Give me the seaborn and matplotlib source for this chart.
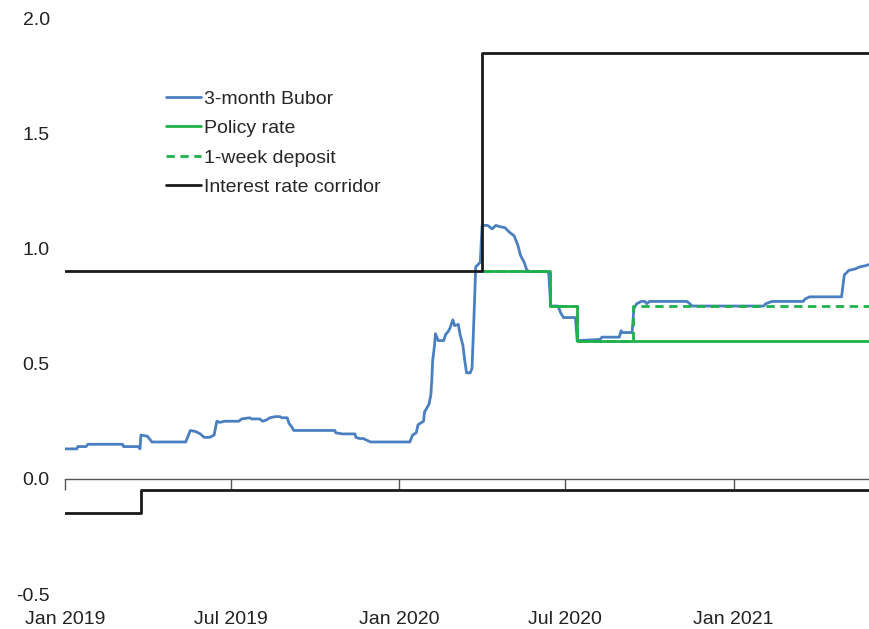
import pandas as pd
import seaborn as sns
import matplotlib
matplotlib.use('Agg')
import matplotlib.pyplot as plt
import matplotlib.dates as mdates

# 3-month Bubor
bubor_dates = ['2019-01-01', '2019-01-14', '2019-01-15', '2019-01-24', '2019-01-26', '2019-03-05',
               '2019-03-06', '2019-03-22', '2019-03-24', '2019-03-25', '2019-04-01', '2019-04-06',
               '2019-05-13', '2019-05-18', '2019-05-24', '2019-05-29', '2019-06-02', '2019-06-08',
               '2019-06-13', '2019-06-16', '2019-06-19', '2019-06-25', '2019-07-10', '2019-07-13',
               '2019-07-22', '2019-07-24', '2019-08-02', '2019-08-05', '2019-08-09', '2019-08-13',
               '2019-08-19', '2019-08-24', '2019-08-26', '2019-09-01', '2019-09-03', '2019-09-06',
               '2019-09-08', '2019-10-23', '2019-10-24', '2019-10-31', '2019-11-14', '2019-11-15',
               '2019-11-19', '2019-11-23', '2019-12-01', '2020-01-13', '2020-01-16', '2020-01-20',
               '2020-01-22', '2020-01-26', '2020-01-28', '2020-01-29', '2020-02-01', '2020-02-03',
               '2020-02-05', '2020-02-06', '2020-02-07', '2020-02-09', '2020-02-10', '2020-02-13',
               '2020-02-19', '2020-02-21', '2020-02-24', '2020-02-26', '2020-02-29', '2020-03-02',
               '2020-03-06', '2020-03-08', '2020-03-11', '2020-03-13', '2020-03-15', '2020-03-19',
               '2020-03-21', '2020-03-23', '2020-03-24', '2020-03-25', '2020-03-30', '2020-04-01',
               '2020-04-07', '2020-04-12', '2020-04-16', '2020-04-20', '2020-04-26', '2020-05-01',
               '2020-05-06', '2020-05-10', '2020-05-13', '2020-05-17', '2020-05-20', '2020-05-23',
               '2020-06-12', '2020-06-13', '2020-06-15', '2020-06-23', '2020-06-26', '2020-06-29',
               '2020-07-12', '2020-07-14', '2020-08-08', '2020-08-10', '2020-08-29', '2020-08-31',
               '2020-09-01', '2020-09-12', '2020-09-14', '2020-09-17', '2020-09-22', '2020-09-26',
               '2020-09-28', '2020-10-01', '2020-11-11', '2020-11-14', '2020-11-17', '2021-02-03',
               '2021-02-05', '2021-02-12', '2021-03-18', '2021-03-20', '2021-03-25', '2021-04-29',
               '2021-05-02', '2021-05-07', '2021-05-13', '2021-05-19', '2021-05-25', '2021-05-29']
bubor_vals = [0.13, 0.13, 0.14, 0.14, 0.15, 0.15,
              0.14, 0.14, 0.13, 0.19, 0.185, 0.16,
              0.16, 0.21, 0.205, 0.195, 0.18, 0.18,
              0.19, 0.25, 0.245, 0.25, 0.25, 0.26,
              0.265, 0.26, 0.26, 0.25, 0.255, 0.265,
              0.27, 0.27, 0.265, 0.265, 0.24, 0.225,
              0.21, 0.21, 0.20, 0.195, 0.195, 0.18,
              0.175, 0.175, 0.16, 0.16, 0.19, 0.20,
              0.235, 0.245, 0.25, 0.29, 0.31, 0.325,
              0.365, 0.43, 0.515, 0.58, 0.63, 0.60,
              0.60, 0.625, 0.64, 0.655, 0.69, 0.665,
              0.67, 0.625, 0.58, 0.515, 0.46, 0.46,
              0.48, 0.69, 0.80, 0.92, 0.94, 1.10,
              1.10, 1.085, 1.10, 1.095, 1.09, 1.07,
              1.055, 1.015, 0.97, 0.94, 0.905, 0.90,
              0.90, 0.885, 0.75, 0.75, 0.72, 0.70,
              0.70, 0.60, 0.605, 0.615, 0.615, 0.643,
              0.635, 0.635, 0.74, 0.76, 0.77, 0.77,
              0.76, 0.77, 0.77, 0.76, 0.75, 0.75,
              0.76, 0.77, 0.77, 0.78, 0.79, 0.79,
              0.885, 0.905, 0.91, 0.92, 0.925, 0.93]

# policy rate and 1-week deposit (step changes)
policy_dates = ['2020-04-01', '2020-06-14', '2020-07-14', '2021-05-29']
policy_vals = [0.9, 0.75, 0.6, 0.6]
deposit_dates = ['2020-04-01', '2020-06-14', '2020-07-14', '2020-09-13', '2021-05-29']
deposit_vals = [0.9, 0.75, 0.6, 0.75, 0.75]

# interest rate corridor, upper and lower bound
upper_dates = ['2019-01-01', '2020-04-01', '2021-05-29']
upper_vals = [0.9, 1.85, 1.85]
lower_dates = ['2019-01-01', '2019-03-25', '2021-05-29']
lower_vals = [-0.15, -0.05, -0.05]

y_ticks = [-0.5, 0.0, 0.5, 1.0, 1.5, 2.0]


def mk(d, v):
    return pd.DataFrame({'date': pd.to_datetime(d), 'val': v})


sns.set_style('white')
plt.rcParams['font.family'] = ['Liberation Sans', 'DejaVu Sans']
plt.rcParams['axes.unicode_minus'] = False

fig = plt.figure(figsize=(8.69, 6.29), dpi=100)
ax = fig.add_axes([0.0748, 0.0556, 0.9252, 0.9157])

c_blue = '#4a7fc1'
c_green = '#1fb14c'
c_black = '#1a1a1a'

sns.lineplot(data=mk(bubor_dates, bubor_vals), x='date', y='val', ax=ax, color=c_blue,
             lw=2.0, estimator=None, sort=False, label='3-month Bubor')
sns.lineplot(data=mk(policy_dates, policy_vals), x='date', y='val', ax=ax, color=c_green,
             lw=2.0, estimator=None, drawstyle='steps-post', label='Policy rate')
sns.lineplot(data=mk(deposit_dates, deposit_vals), x='date', y='val', ax=ax, color=c_green,
             lw=2.0, estimator=None, drawstyle='steps-post', linestyle=(0, (3, 2)),
             label='1-week deposit')
sns.lineplot(data=mk(upper_dates, upper_vals), x='date', y='val', ax=ax, color=c_black,
             lw=2.0, estimator=None, drawstyle='steps-post', label='Interest rate corridor')
sns.lineplot(data=mk(lower_dates, lower_vals), x='date', y='val', ax=ax, color=c_black,
             lw=2.0, estimator=None, drawstyle='steps-post')

ax.set_xlim(pd.Timestamp('2019-01-01'), pd.Timestamp('2021-05-29'))
ax.set_ylim(-0.5, 2.0)
ax.set_yticks(y_ticks)
ax.yaxis.set_major_formatter(plt.FormatStrFormatter('%.1f'))
ax.set_xlabel('')
ax.set_ylabel('')

# x axis line sits at zero, labels at the bottom
for s in ['top', 'right', 'left']:
    ax.spines[s].set_visible(False)
ax.spines['bottom'].set_position(('data', 0))
ax.spines['bottom'].set_color('#555555')
ax.spines['bottom'].set_linewidth(1.0)
loc = mdates.MonthLocator(bymonth=[1, 7])
ax.xaxis.set_major_locator(loc)
ax.xaxis.set_major_formatter(mdates.DateFormatter('%b %Y'))
ax.tick_params(axis='x', direction='out', length=8, width=1.0, color='#555555',
               labelbottom=False, bottom=True)
ax.tick_params(axis='y', length=0, pad=11, labelsize=14, labelcolor='#222222')

sec = ax.secondary_xaxis('bottom')
sec.xaxis.set_major_locator(mdates.MonthLocator(bymonth=[1, 7]))
sec.xaxis.set_major_formatter(mdates.DateFormatter('%b %Y'))
sec.tick_params(length=0, labelsize=14, labelcolor='#222222', pad=12)
sec.spines['bottom'].set_visible(False)

ax.legend(loc='upper left', bbox_to_anchor=(0.116, 0.888), frameon=False, fontsize=14,
          handlelength=1.8, handletextpad=0.15, labelspacing=0.6, borderaxespad=0)

plt.savefig('out.png', dpi=100)
